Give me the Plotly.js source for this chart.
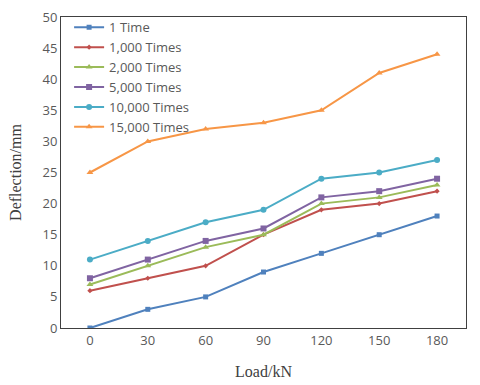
<!DOCTYPE html>
<html>
<head>
<meta charset="utf-8">
<script src="https://cdn.plot.ly/plotly-3.0.1.min.js"></script>
<style>
  html, body { margin: 0; padding: 0; background: #fff; }
  #plot { width: 480px; height: 385px; }
</style>
</head>
<body>
<div id="plot"></div>
<script>
/** Data **/
let loads = ["0", "30", "60", "90", "120", "150", "180"];
let names = ["1 Time", "1,000 Times", "2,000 Times", "5,000 Times", "10,000 Times", "15,000 Times"];
let d1 = [0, 3, 5, 9, 12, 15, 18];
let d1000 = [6, 8, 10, 15, 19, 20, 22];
let d2000 = [7, 10, 13, 15, 20, 21, 23];
let d5000 = [8, 11, 14, 16, 21, 22, 24];
let d10000 = [11, 14, 17, 19, 24, 25, 27];
let d15000 = [25, 30, 32, 33, 35, 41, 44];
let yTicks = [0, 5, 10, 15, 20, 25, 30, 35, 40, 45, 50];

let series = [d1, d1000, d2000, d5000, d10000, d15000];
let colors = ["#4f81bd", "#c0504d", "#9bbb59", "#8064a2", "#4bacc6", "#f79646"];
let symbols = ["square", "diamond", "triangle-up", "square", "circle", "triangle-up"];
let sizes = [5, 4, 6, 6, 6, 6];

/** Build the traces **/
let traces = [];
for (let i = 0; i < series.length; i++) {
    traces.push({
        x: loads,
        y: series[i],
        type: "scatter",
        mode: "lines+markers",
        name: names[i],
        line: {color: colors[i], width: 2},
        marker: {color: colors[i], symbol: symbols[i], size: sizes[i]}
    });
}

/* layout */
let layout = {
    width: 480,
    height: 385,
    margin: {l: 61, r: 14, t: 14, b: 57},
    paper_bgcolor: "#ffffff",
    plot_bgcolor: "#ffffff",
    showlegend: true,
    legend: {
        x: 0.02, y: 1.015, xanchor: "left", yanchor: "top",
        bgcolor: "rgba(0,0,0,0)",
        font: {family: "Open Sans, Liberation Sans, sans-serif", size: 13, color: "#595959"},
        tracegroupgap: 0
    },
    xaxis: {
        type: "category",
        range: [-0.5, 6.5],
        showgrid: false,
        zeroline: false,
        showline: true, mirror: true, linecolor: "#404040", linewidth: 1,
        ticks: "",
        tickfont: {family: "Open Sans, Liberation Sans, sans-serif", size: 13, color: "#595959"},
        title: {text: "Load/kN", font: {family: "Liberation Serif, Times New Roman, serif", size: 16, color: "#404040"}, standoff: 18}
    },
    yaxis: {
        range: [0, 50],
        tickvals: yTicks,
        showgrid: false,
        zeroline: false,
        showline: true, mirror: true, linecolor: "#404040", linewidth: 1,
        ticks: "",
        tickfont: {family: "Open Sans, Liberation Sans, sans-serif", size: 13, color: "#595959"},
        title: {text: "Deflection/mm", font: {family: "Liberation Serif, Times New Roman, serif", size: 16, color: "#404040"}, standoff: 16}
    }
};

Plotly.newPlot("plot", traces, layout, {displayModeBar: false, staticPlot: true});
</script>
</body>
</html>
